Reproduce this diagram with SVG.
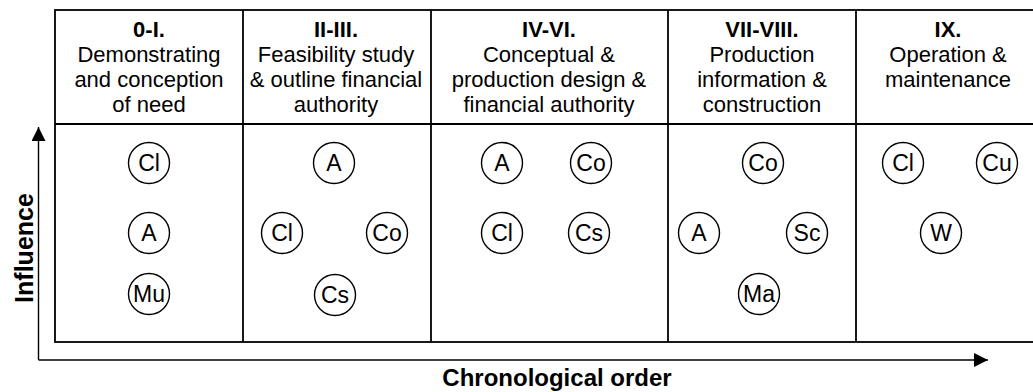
<svg xmlns="http://www.w3.org/2000/svg" width="1033" height="392" viewBox="0 0 1033 392">
  <style>
    .grid { fill: none; stroke: #000; stroke-width: 1.8; }
    .axis { fill: none; stroke: #000; stroke-width: 1.4; }
    .head { fill: #000; }
    .hd { font-family: "Liberation Sans", Arial, sans-serif; font-size: 22px; text-anchor: middle; fill: #000; }
    .hd .num { font-weight: bold; }
    .node circle { fill: #fff; stroke: #000; stroke-width: 1.4; }
    .node text { font-family: "Liberation Sans", Arial, sans-serif; font-size: 23px; text-anchor: middle; fill: #000; }
    .ax { font-family: "Liberation Sans", Arial, sans-serif; font-weight: bold; text-anchor: middle; fill: #000; }
  </style>
  <defs>
    <marker id="arrow" viewBox="0 0 14 14" refX="14" refY="7" markerWidth="14" markerHeight="14" markerUnits="userSpaceOnUse" orient="auto">
      <path class="head" d="M0,0 L14,7 L0,14 Z"/>
    </marker>
  </defs>

  <rect width="1033" height="392" fill="#fff"/>

  <!-- phase table -->
  <g id="table" class="grid">
    <rect x="55" y="10" width="990" height="332"/>
    <line x1="55" y1="124" x2="1045" y2="124"/>
    <line x1="243" y1="10" x2="243" y2="342"/>
    <line x1="431" y1="10" x2="431" y2="342"/>
    <line x1="668" y1="10" x2="668" y2="342"/>
    <line x1="856" y1="10" x2="856" y2="342"/>
  </g>

  <!-- phase headings -->
  <g id="phase-0-I" class="hd">
    <text x="149" y="37"><tspan class="num">0-I.</tspan></text>
    <text x="149" y="62">Demonstrating</text>
    <text x="149" y="87">and conception</text>
    <text x="149" y="112">of need</text>
  </g>
  <g id="phase-II-III" class="hd">
    <text x="336" y="37"><tspan class="num">II-III.</tspan></text>
    <text x="336" y="62">Feasibility study</text>
    <text x="336" y="87">&amp; outline financial</text>
    <text x="336" y="112">authority</text>
  </g>
  <g id="phase-IV-VI" class="hd">
    <text x="549" y="37"><tspan class="num">IV-VI.</tspan></text>
    <text x="549" y="62">Conceptual &amp;</text>
    <text x="549" y="87">production design &amp;</text>
    <text x="549" y="112">financial authority</text>
  </g>
  <g id="phase-VII-VIII" class="hd">
    <text x="762" y="37"><tspan class="num">VII-VIII.</tspan></text>
    <text x="762" y="62">Production</text>
    <text x="762" y="87">information &amp;</text>
    <text x="762" y="112">construction</text>
  </g>
  <g id="phase-IX" class="hd">
    <text x="948" y="37"><tspan class="num">IX.</tspan></text>
    <text x="948" y="62">Operation &amp;</text>
    <text x="948" y="87">maintenance</text>
  </g>

  <!-- participants -->
  <g id="p1-Cl" class="node"><circle cx="149" cy="163" r="20.5"/><text x="149" y="171">Cl</text></g>
  <g id="p1-A" class="node"><circle cx="149" cy="233" r="20.5"/><text x="149" y="241">A</text></g>
  <g id="p1-Mu" class="node"><circle cx="149" cy="294" r="20.5"/><text x="149" y="302">Mu</text></g>

  <g id="p2-A" class="node"><circle cx="334" cy="163" r="20.5"/><text x="334" y="171">A</text></g>
  <g id="p2-Cl" class="node"><circle cx="282" cy="233" r="20.5"/><text x="282" y="241">Cl</text></g>
  <g id="p2-Co" class="node"><circle cx="387" cy="233" r="20.5"/><text x="387" y="241">Co</text></g>
  <g id="p2-Cs" class="node"><circle cx="335" cy="295" r="20.5"/><text x="335" y="303">Cs</text></g>

  <g id="p3-A" class="node"><circle cx="502" cy="163" r="20.5"/><text x="502" y="171">A</text></g>
  <g id="p3-Co" class="node"><circle cx="591" cy="163" r="20.5"/><text x="591" y="171">Co</text></g>
  <g id="p3-Cl" class="node"><circle cx="502" cy="233" r="20.5"/><text x="502" y="241">Cl</text></g>
  <g id="p3-Cs" class="node"><circle cx="589" cy="233" r="20.5"/><text x="589" y="241">Cs</text></g>

  <g id="p4-Co" class="node"><circle cx="763" cy="163" r="20.5"/><text x="763" y="171">Co</text></g>
  <g id="p4-A" class="node"><circle cx="699" cy="233" r="20.5"/><text x="699" y="241">A</text></g>
  <g id="p4-Sc" class="node"><circle cx="807" cy="233" r="20.5"/><text x="807" y="241">Sc</text></g>
  <g id="p4-Ma" class="node"><circle cx="759" cy="294" r="20.5"/><text x="759" y="302">Ma</text></g>

  <g id="p5-Cl" class="node"><circle cx="903" cy="163" r="20.5"/><text x="903" y="171">Cl</text></g>
  <g id="p5-Cu" class="node"><circle cx="997" cy="163" r="20.5"/><text x="997" y="171">Cu</text></g>
  <g id="p5-W" class="node"><circle cx="941" cy="233" r="20.5"/><text x="941" y="241">W</text></g>

  <!-- axes -->
  <g id="connectors" class="axis">
    <line x1="38.5" y1="360" x2="38.5" y2="127" marker-end="url(#arrow)"/>
    <line x1="38.5" y1="360" x2="988" y2="360" marker-end="url(#arrow)"/>
  </g>
  <text class="ax" font-size="25" transform="translate(33 248) rotate(-90)">Influence</text>
  <text class="ax" font-size="24" x="557" y="386">Chronological order</text>
</svg>
